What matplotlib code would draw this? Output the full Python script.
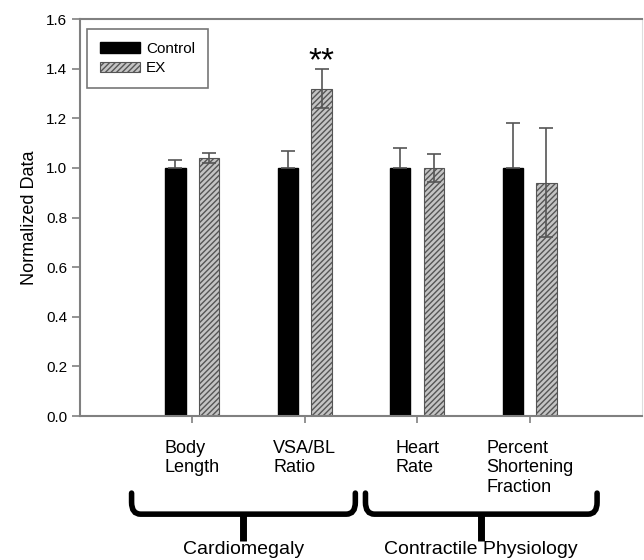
import numpy as np
import matplotlib.pyplot as plt
from matplotlib.path import Path
from matplotlib.patches import PathPatch
import matplotlib.transforms as mtransforms

plt.rcParams['font.family'] = ['Liberation Sans', 'DejaVu Sans']
plt.rcParams['hatch.color'] = '#555555'

#%% data
categories = ["Body\nLength", "VSA/BL\nRatio", "Heart\nRate", "Percent\nShortening\nFraction"]
control = [1.00, 1.00, 1.00, 1.00]
control_err = [0.03, 0.07, 0.08, 0.18]
ex = [1.04, 1.32, 1.00, 0.94]
ex_err = [0.02, 0.08, 0.055, 0.22]
groups = ["Cardiomegaly", "Contractile Physiology"]
group_spans = [(-0.54, 1.45), (1.54, 3.60)]

#%% figure
fig = plt.figure(figsize=(6.44, 5.6), dpi=100)
ax = fig.add_axes([0.124, 0.257, 0.873, 0.709])

x = np.arange(len(categories))
w = 0.18
off = 0.15
ax.bar(x - off, control, w, color='black', edgecolor='black', label='Control', zorder=2)
ax.bar(x + off, ex, w, color='#c4c4c4', edgecolor='#555555', hatch='//////',
       linewidth=0.8, label='EX', zorder=2)

ax.errorbar(x - off, control, yerr=[np.zeros(4), control_err], fmt='none',
            ecolor='#555555', elinewidth=1.2, capsize=4.7, capthick=1.2, zorder=3)
ax.errorbar(x + off, ex, yerr=ex_err, fmt='none',
            ecolor='#555555', elinewidth=1.2, capsize=4.7, capthick=1.2, zorder=3)

# significance stars above VSA/BL
ax.text(1 + off, 1.395, '**', ha='center', va='baseline', fontsize=24)

ax.set_xlim(-1, 4)
ax.set_ylim(0, 1.6)
ax.set_yticks(np.arange(0, 1.61, 0.2))
ax.set_yticklabels(['%.1f' % v for v in np.arange(0, 1.61, 0.2)], fontsize=11)
ax.set_xticks(x)
ax.set_xticklabels(categories, fontsize=13, multialignment='left')
ax.tick_params(axis='y', length=6, width=1.2, color='#808080', pad=3)
ax.tick_params(axis='x', length=5, width=1.2, color='#808080', pad=12)
ax.set_ylabel('Normalized Data', fontsize=13, labelpad=6)

for s in ['left', 'bottom', 'top']:
    ax.spines[s].set_color('#808080')
    ax.spines[s].set_linewidth(1.5)
ax.spines['right'].set_color('#dddddd')

leg = ax.legend(loc='upper left', bbox_to_anchor=(0.013, 0.975), fontsize=11,
                frameon=True, fancybox=False, handlelength=2.6, handleheight=0.7,
                borderpad=0.85, labelspacing=0.35, handletextpad=0.4, borderaxespad=0)
leg.get_frame().set_edgecolor('#555555')
leg.get_frame().set_linewidth(1.2)

#%% braces below the axis
trans = mtransforms.blended_transform_factory(ax.transData, ax.transAxes)
y_top, y_h, y_tip = -0.194, -0.247, -0.315
r = 0.03
for (x0, x1), name in zip(group_spans, groups):
    xc = (x0 + x1) / 2
    verts = [(x0, y_top), (x0, y_h + r), (x0, y_h), (x0 + 0.08, y_h),
             (x1 - 0.08, y_h), (x1, y_h), (x1, y_h + r), (x1, y_top)]
    codes = [Path.MOVETO, Path.LINETO, Path.CURVE3, Path.CURVE3,
             Path.LINETO, Path.CURVE3, Path.CURVE3, Path.LINETO]
    ax.add_patch(PathPatch(Path(verts, codes), transform=trans, fill=False,
                           lw=4, edgecolor='black', clip_on=False, capstyle='round'))
    ax.plot([xc, xc], [y_h, y_tip], transform=trans, color='black', lw=5,
            clip_on=False, solid_capstyle='butt')
    ax.text(xc, -0.335, name, transform=trans, ha='center', va='center', fontsize=14)

fig.savefig('out.png', dpi=100)
